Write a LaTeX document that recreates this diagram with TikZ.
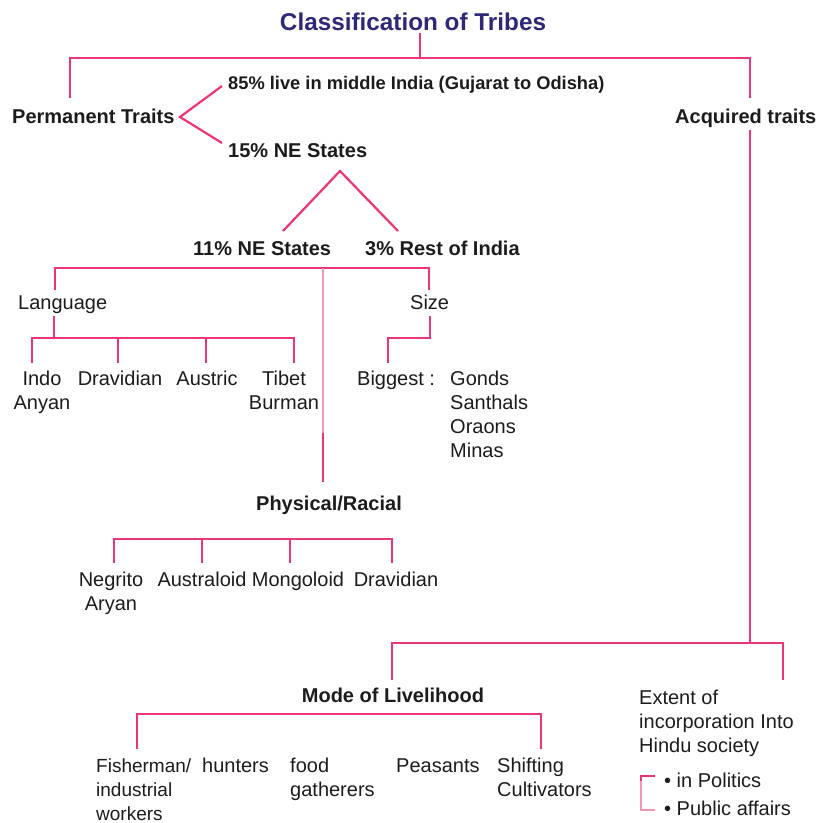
\documentclass[tikz,border=0pt]{standalone}
\usepackage{fontspec}
\setmainfont{Liberation Sans}
\definecolor{lpink}{RGB}{238,52,120}
\definecolor{lpinklt}{RGB}{246,150,182}
\definecolor{tnavy}{RGB}{46,40,120}
\definecolor{txtc}{RGB}{28,28,28}
\newcommand\mystack[2][l]{\begin{tabular}[t]{@{}#1@{}}#2\end{tabular}}
\newcommand\fsz{\fontsize{20}{24.3}\selectfont}
\tikzset{
  pk/.style={draw=lpink, line width=2.2pt},
  pklt/.style={draw=lpinklt, line width=2.2pt},
  rg/.style={inner sep=0pt, font=\fsz, text=txtc},
  bl/.style={inner sep=0pt, font=\fsz\bfseries, text=txtc},
  ttl/.style={inner sep=0pt, font=\fontsize{24.3}{29}\selectfont\bfseries, text=tnavy}
}
\begin{document}
\begin{tikzpicture}[x=1pt,y=-1pt]
\useasboundingbox (0,0) rectangle (819,823);
% ---------- texts ----------
\node[ttl,anchor=base] (title) at (413,30) {Classification of Tribes};
\node[bl,anchor=base west] (perm) at (12,123) {Permanent Traits};
\node[bl,anchor=base west] (acq) at (675,123) {Acquired traits};
\node[bl,anchor=base west,font=\fontsize{18.3}{22}\selectfont\bfseries] (p85) at (228,89) {85\% live in middle India (Gujarat to Odisha)};
\node[bl,anchor=base west] (p15) at (228,157) {15\% NE States};
\node[bl,anchor=base west] (p11) at (193,255) {11\% NE States};
\node[bl,anchor=base west] (p3) at (365,255) {3\% Rest of India};
\node[rg,anchor=base west] (lang) at (18,309) {Language};
\node[rg,anchor=base west] (size) at (410,309) {Size};
\node[rg,anchor=base] (indo) at (42,385) {\mystack[c]{Indo\\Anyan}};
\node[rg,anchor=base] (drav1) at (120,385) {Dravidian};
\node[rg,anchor=base] (aust) at (207,385) {Austric};
\node[rg,anchor=base] (tib) at (284,385) {\mystack[c]{Tibet\\Burman}};
\node[rg,anchor=base west] (big) at (357,385) {Biggest :};
\node[rg,anchor=base west] (gonds) at (450,385) {\mystack{Gonds\\Santhals\\Oraons\\Minas}};
\node[bl,anchor=base] (phys) at (329,510) {Physical/Racial};
\node[rg,anchor=base] (negr) at (111,586) {\mystack[c]{Negrito\\Aryan}};
\node[rg,anchor=base] (austl) at (202,586) {Australoid};
\node[rg,anchor=base] (mong) at (298,586) {Mongoloid};
\node[rg,anchor=base] (drav2) at (396,586) {Dravidian};
\node[bl,anchor=base] (mode) at (393,702) {Mode of Livelihood};
\node[rg,anchor=base west,font=\fontsize{19}{24.3}\selectfont] (fish) at (96,772) {\mystack{Fisherman/\\industrial\\workers}};
\node[rg,anchor=base west] (hunt) at (202,772) {hunters};
\node[rg,anchor=base west] (food) at (290,772) {\mystack{food\\gatherers}};
\node[rg,anchor=base west] (peas) at (396,772) {Peasants};
\node[rg,anchor=base west] (shift) at (497,772) {\mystack{Shifting\\Cultivators}};
\node[rg,anchor=base west] (ext) at (639,704) {\mystack{Extent of\\incorporation Into\\Hindu society}};
\node[rg,anchor=base west] (pol) at (664,787) {• in Politics};
\node[rg,anchor=base west] (pub) at (664,815) {• Public affairs};
% ---------- coordinates ----------
\coordinate (t0) at (420,33);
\coordinate (t1) at (420,58);
\coordinate (L0) at (70,98);
\coordinate (L1) at (70,58);
\coordinate (R1) at (750,58);
\coordinate (R0) at (750,98);
\coordinate (v85) at (222,86);
\coordinate (vx) at (180,117);
\coordinate (v15) at (222,143);
\coordinate (a0) at (750,130);
\coordinate (a1) at (750,643);
\coordinate (m0) at (392,680);
\coordinate (m1) at (392,643);
\coordinate (e1) at (783,643);
\coordinate (e0) at (783,680);
\coordinate (apx) at (340,171);
\coordinate (leg1) at (283,231);
\coordinate (leg2) at (398,231);
\coordinate (h0) at (55,290);
\coordinate (h1) at (55,268);
\coordinate (h2) at (429,268);
\coordinate (h3) at (429,290);
\coordinate (c0) at (323,268);
\coordinate (c1) at (323,433);
\coordinate (c2) at (323,482);
% ---------- connectors ----------
\draw[pk] (t0) -- (t1);
\draw[pk] (L0) -- (L1) -- (R1) -- (R0);
\draw[pk] (v85) -- (vx) -- (v15);
\draw[pk] (a0) -- (a1);
\draw[pk] (m0) -- (m1) -- (e1) -- (e0);
\draw[pk] (leg1) -- (apx) -- (leg2);
\draw[pk] (h0) -- (h1) -- (h2) -- (h3);
\draw[pklt] (c0) -- (c1);
\draw[pk] (c1) -- (c2);
% language
\draw[pk] (54,316) -- (54,338);
\draw[pk] (32,363) -- (32,338) -- (294,338) -- (294,363);
\draw[pk] (118,338) -- (118,363);
\draw[pk] (206,338) -- (206,363);
% size
\draw[pk] (430,316) -- (430,338) -- (388,338) -- (388,363);
% physical
\draw[pk] (114,563) -- (114,539) -- (392,539) -- (392,563);
\draw[pk] (202,539) -- (202,563);
\draw[pk] (290,539) -- (290,563);
% mode
\draw[pk] (137,749) -- (137,714) -- (541,714) -- (541,749);
% bracket
\draw[pklt, line width=1.8pt] (641,777) -- (641,810) -- (655,810);
\draw[pk, line width=1.8pt] (655,776) -- (641,776) -- (641,781);
\end{tikzpicture}
\end{document}
